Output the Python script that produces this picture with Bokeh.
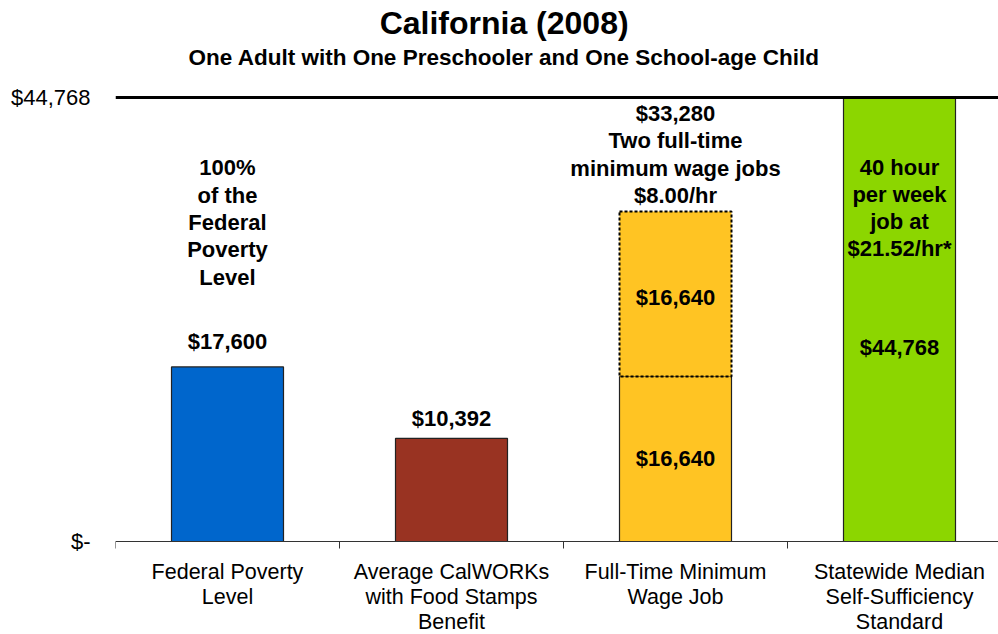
from bokeh.plotting import figure
from bokeh.models import Label, Span, FixedTicker, Range1d
from bokeh.embed import file_html
from bokeh.resources import INLINE

# ---- data ----
categories = ["Federal Poverty Level", "Average CalWORKs with Food Stamps Benefit",
              "Full-Time Minimum Wage Job", "Statewide Median Self-Sufficiency Standard"]
category_tick_labels = ["Federal Poverty\nLevel",
                        "Average CalWORKs\nwith Food Stamps\nBenefit",
                        "Full-Time Minimum\nWage Job",
                        "Statewide Median\nSelf-Sufficiency\nStandard"]
base_values = [17600, 10392, 16640, 44768]
second_job_value = 16640
value_labels = ["$17,600", "$10,392", "$16,640", "$44,768"]
second_job_label = "$16,640"
bar_colors = ["#0066CC", "#993322", "#FFC423", "#8CD600"]
fpl_note = ["100%", "of the", "Federal", "Poverty", "Level"]
minwage_note = ["$33,280", "Two full-time", "minimum wage jobs", "$8.00/hr"]
sss_note = ["40 hour", "per week", "job at", "$21.52/hr*"]
y_max = 44768
y_ticks = [0, 44768]
y_tick_labels = {0: "$-", 44768: "$44,768"}
title = "California (2008)"
subtitle = "One Adult with One Preschooler and One School-age Child"

W, H = 998, 634
BL = 115
SCALE_H = 444          # pixels from $- to $44,768
TOP_PAD = 97           # title area above the $44,768 line
BOTTOM_PAD = H - TOP_PAD - SCALE_H   # category label area below the baseline
FONT = "Liberation Sans"


def px(n):
    return n * y_max / SCALE_H


xs = list(range(len(categories)))
centers = [float(i) for i in xs]
bounds = [i - 0.5 for i in range(len(categories) + 1)]

p = figure(width=W, height=H, x_range=Range1d(-0.5, -0.5 + (W - BL) / 224.0),
           y_range=Range1d(-px(BOTTOM_PAD), y_max + px(TOP_PAD)),
           output_backend="svg", toolbar_location=None,
           min_border_left=BL, min_border_right=0, min_border_top=0, min_border_bottom=0)
p.outline_line_color = None
p.xgrid.visible = False
p.ygrid.visible = False
p.background_fill_color = "white"
p.border_fill_color = "white"

# x axis drawn at $0: labels at centres, small ticks at category boundaries
p.xaxis.fixed_location = 0
p.xaxis.ticker = FixedTicker(ticks=centers, minor_ticks=bounds)
p.xaxis.major_label_overrides = {c: t for c, t in zip(centers, category_tick_labels)}
p.xaxis.major_label_text_font = FONT
p.xaxis.major_label_text_font_size = "21.5px"
p.xaxis.major_label_text_color = "black"
p.xaxis.major_label_text_line_height = 1.05
p.xaxis.major_label_standoff = 11
p.xaxis.major_tick_line_color = None
p.xaxis.major_tick_in = 0
p.xaxis.major_tick_out = 0
p.xaxis.minor_tick_in = 0
p.xaxis.minor_tick_out = 7
p.xaxis.minor_tick_line_color = "#333333"
p.xaxis.axis_line_color = "#333333"

p.yaxis.ticker = FixedTicker(ticks=y_ticks)
p.yaxis.major_label_overrides = y_tick_labels
p.yaxis.axis_line_color = None
p.yaxis.major_tick_line_color = None
p.yaxis.minor_tick_line_color = None
p.yaxis.major_tick_in = 0
p.yaxis.major_tick_out = 0
p.yaxis.major_label_standoff = 25
p.yaxis.major_label_text_font = FONT
p.yaxis.major_label_text_font_size = "22px"
p.yaxis.major_label_text_color = "black"

# top reference line
p.add_layout(Span(location=y_max, dimension="width", line_color="black", line_width=3))

# bars
p.vbar(x=xs, top=base_values, bottom=0, width=0.5, fill_color=bar_colors,
       line_color="#222222", line_width=1.2)
p.vbar(x=[2], bottom=[base_values[2]], top=[base_values[2] + second_job_value], width=0.5,
       fill_color=bar_colors[2], line_color="black", line_width=2, line_dash="3 2")


def lab(x, y, text, size="22px", bold=True, font=FONT):
    p.add_layout(Label(x=x, y=y, text=text, text_align="center", text_baseline="middle",
                       text_font=font, text_font_size=size,
                       text_font_style="bold" if bold else "normal", text_color="black"))


LS = 27.3
# value labels
lab(0, base_values[0] + px(25), value_labels[0])
lab(1, base_values[1] + px(20), value_labels[1])
lab(2, base_values[2] / 2, value_labels[2])
lab(2, base_values[2] + second_job_value / 2 - px(4), second_job_label)
lab(3, base_values[3] - px(250), value_labels[3])

# notes
for k, t in enumerate(fpl_note):
    lab(0, base_values[0] + px(199 - k * LS), t)
for k, t in enumerate(minwage_note):
    lab(2, base_values[2] + second_job_value + px(98 - k * LS), t)
for k, t in enumerate(sss_note):
    lab(3, base_values[3] - px(70 + k * 27.0), t)

# titles
lab(1.235, y_max + px(75), title, size="32px")
lab(1.235, y_max + px(40), subtitle, size="22.5px")

open("out.html", "w").write(file_html(p, INLINE))
